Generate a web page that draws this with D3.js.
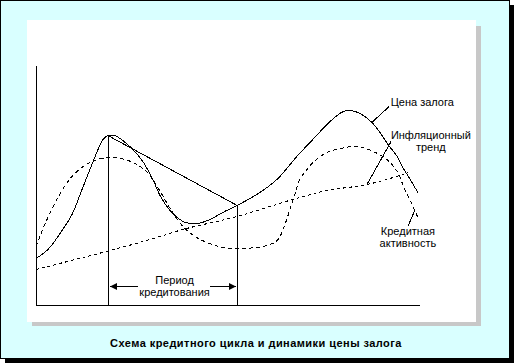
<!DOCTYPE html>
<html><head><meta charset="utf-8">
<script src="https://cdn.jsdelivr.net/npm/d3@7"></script>
<style>html,body{margin:0;padding:0;background:#fff;}svg{display:block;}
text{font-family:"Liberation Sans",Arial,sans-serif;font-size:11px;fill:#000;}</style>
</head><body>
<svg id="c" width="514" height="363"></svg>
<script>
// ---- data (x: time 0..100, y: level 0..100) ----
const pricePoints = [[0,19.6],[3.1,23.3],[7.0,31.7],[9.4,37.9],[12.0,48.3],[14.1,56.7],[16.2,65.0],[17.5,69.2],[18.8,70.8],[20.6,70.8],[23.0,68.3],[25.3,65.0],[27.9,60.0],[30.5,52.5],[32.4,45.8],[35.0,39.6],[38.4,35.0],[40.2,34.2],[42.3,34.2],[45.4,35.8],[48.8,38.8],[52.5,41.7],[57.7,46.3],[62.9,52.5],[68.1,62.1],[72.3,69.2],[76.8,76.7],[80.2,80.8],[82.0,81.3],[84.6,80.0],[87.7,76.3],[89.8,72.1],[91.9,67.1],[94.3,62.1],[95.8,57.5],[97.7,52.5],[99.7,47.1]];
const creditPoints = [[0,24.6],[2.3,33.8],[5.0,42.9],[7.3,49.2],[9.4,53.8],[12.0,57.5],[14.6,60.0],[18.8,61.7],[21.9,61.3],[25.3,59.6],[28.5,56.3],[30.5,52.5],[33.2,45.4],[35.5,39.2],[38.4,32.9],[41.5,28.8],[44.6,26.3],[48.8,24.2],[53.3,23.8],[57.7,24.2],[61.1,25.4],[63.2,27.5],[65.0,33.8],[66.3,40.0],[67.6,46.3],[68.9,52.5],[70.8,56.7],[72.3,59.6],[76.0,63.8],[79.4,65.4],[83.8,66.3],[88.0,64.2],[91.6,60.8],[94.3,55.8],[96.3,48.3],[98.2,42.1],[99.7,36.7]];
const trendPoints = [[0,15.0],[19.3,22.9],[29.8,27.5],[38.4,31.7],[52.5,37.1],[67.1,44.2],[76.0,47.9],[86.4,50.4],[95.0,54.2],[97.1,55.4]];
const periodStart = [18.8, 70.8];   // [x, price level]
const periodEnd = [52.5, 41.7];
const arrowLevel = 8.3;
const labelPrice = ["Цена залога"];
const labelTrend = ["Инфляционный", "тренд"];
const labelCredit = ["Кредитная", "активность"];
const labelPeriod = ["Период", "кредитования"];
const caption = "Схема кредитного цикла и динамики цены залога";
// leader lines [from curve point, to label]
const leaderPrice = [[87.7,76.3],[92.2,82.9]];
const leaderTrend = [[86.4,50.4],[92.7,68.3]];
const leaderCredit = [[99.0,40.0],[97.1,32.9]];
const posPrice = [92.6, 83.3];
const posTrend = [103.1, 69.2];
const posCredit = [97.1, 29.2];

const svg = d3.select("#c");
// frame
svg.append("rect").attr("x",5).attr("y",5).attr("width",509).attr("height",358).attr("fill","#000");
svg.append("rect").attr("x",0.5).attr("y",0.5).attr("width",509).attr("height",358).attr("fill","#d9ffff").attr("stroke","#000");
svg.append("rect").attr("x",32).attr("y",26).attr("width",449).attr("height",300).attr("fill","#c8c8c8");
svg.append("rect").attr("x",27).attr("y",20).attr("width",449).attr("height",302).attr("fill","#fff");

const xs = d3.scaleLinear().domain([0,100]).range([36,419]);
const ys = d3.scaleLinear().domain([0,100]).range([305.5,65.5]);

const g = svg.append("g").attr("shape-rendering","crispEdges");
g.append("g").attr("transform","translate(36,0)")
  .call(d3.axisLeft(ys).tickValues([]).tickSizeOuter(0)).select(".domain").attr("stroke","#000");
g.append("g").attr("transform","translate(0,305)")
  .call(d3.axisBottom(xs).tickValues([]).tickSizeOuter(0)).select(".domain").attr("stroke","#000");

const line = d3.line().x(d=>xs(d[0])).y(d=>ys(d[1])).curve(d3.curveCatmullRom.alpha(0.5));
const straight = d3.line().x(d=>xs(d[0])).y(d=>ys(d[1]));

g.append("path").attr("d",line(pricePoints)).attr("fill","none").attr("stroke","#000");
g.append("path").attr("d",line(creditPoints)).attr("fill","none").attr("stroke","#000").attr("stroke-dasharray","4,3");
g.append("path").attr("d",line(trendPoints)).attr("fill","none").attr("stroke","#000").attr("stroke-dasharray","3,3");

// chord and period verticals
g.append("path").attr("d",straight([periodStart,periodEnd])).attr("fill","none").attr("stroke","#000");
[periodStart,periodEnd].forEach(p=>{
  g.append("line").attr("x1",Math.round(xs(p[0]))+0.5).attr("x2",Math.round(xs(p[0]))+0.5)
   .attr("y1",ys(p[1])).attr("y2",ys(0)).attr("stroke","#000");
});

// leaders
[leaderPrice,leaderTrend,leaderCredit].forEach(l=>{
  g.append("path").attr("d",straight(l)).attr("fill","none").attr("stroke","#000");
});

// period arrows
const ay = Math.round(ys(arrowLevel))+0.5;
const xa = Math.round(xs(periodStart[0]))+2, xb = Math.round(xs(periodEnd[0]))-1;
g.append("line").attr("x1",xa).attr("x2",xa+28).attr("y1",ay).attr("y2",ay).attr("stroke","#000");
g.append("line").attr("x1",xb-26).attr("x2",xb).attr("y1",ay).attr("y2",ay).attr("stroke","#000");
svg.append("path").attr("d",`M${xa},${ay}L${xa+7},${ay-3.5}L${xa+7},${ay+3.5}Z`).attr("fill","#000");
svg.append("path").attr("d",`M${xb},${ay}L${xb-7},${ay-3.5}L${xb-7},${ay+3.5}Z`).attr("fill","#000");

// labels
function lines(arr, x, y, anchor){
  arr.forEach((t,i)=>svg.append("text").attr("x",x).attr("y",y+i*12).attr("text-anchor",anchor).text(t));
}
lines(labelPrice, xs(posPrice[0]), ys(posPrice[1]), "start");
lines(labelTrend, xs(posTrend[0]), ys(posTrend[1]), "middle");
lines(labelCredit, xs(posCredit[0]), ys(posCredit[1]), "middle");
lines(labelPeriod, (xs(periodStart[0])+xs(periodEnd[0]))/2+2, ys(arrowLevel)-2, "middle");

svg.append("text").attr("x",256).attr("y",347).attr("text-anchor","middle")
  .style("font-weight","bold").style("font-size","11px").style("letter-spacing","0.45px").text(caption);
</script>
</body></html>
